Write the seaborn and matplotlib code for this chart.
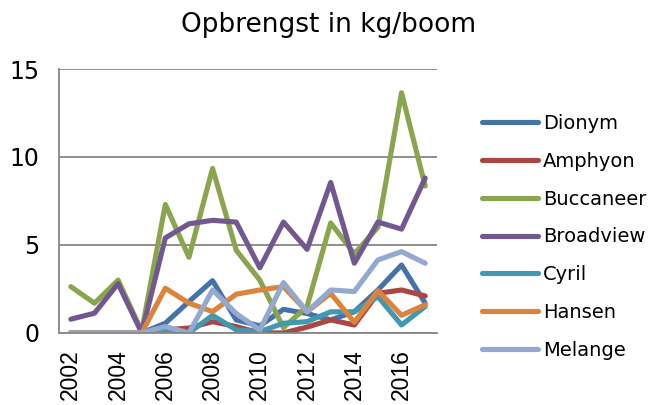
import pandas as pd
import matplotlib
matplotlib.use("Agg")
import matplotlib.pyplot as plt
import seaborn as sns

years = list(range(2002, 2018))

dionym    = [0, 0, 0, 0, 0.55, 1.78, 2.97, 0.74, 0.4, 1.34, 1.1, 0.74, 1.2, 2.44, 3.86, 1.69]
amphyon   = [0, 0, 0, 0, 0.17, 0.28, 0.64, 0.36, 0, 0, 0.33, 0.74, 0.45, 2.25, 2.44, 2.1]
buccaneer = [2.63, 1.69, 3.0, 0.1, 7.3, 4.3, 9.35, 4.7, 3.0, 0.3, 1.5, 6.25, 4.5, 6.0, 13.65, 8.35]
broadview = [0.78, 1.12, 2.8, 0, 5.4, 6.2, 6.4, 6.3, 3.7, 6.3, 4.75, 8.55, 3.96, 6.3, 5.9, 8.8]
cyril     = [0, 0, 0, 0, 0.08, 0, 1.0, 0.17, 0.07, 0.55, 0.64, 1.2, 1.2, 2.06, 0.45, 1.5]
hansen    = [0, 0, 0, 0, 2.54, 1.69, 1.21, 2.2, 2.44, 2.63, 1.2, 2.25, 0.6, 2.4, 1.0, 1.6]
melange   = [0, 0, 0, 0, 0.36, 0, 2.44, 1.1, 0.17, 2.86, 1.2, 2.44, 2.35, 4.15, 4.62, 3.96]

names = ["Dionym", "Amphyon", "Buccaneer", "Broadview", "Cyril", "Hansen", "Melange"]
colors = ["#4572A7", "#AA4643", "#89A54E", "#71588F", "#4198AF", "#DB843D", "#93A9CF"]

df = pd.DataFrame({"year": years, "Dionym": dionym, "Amphyon": amphyon,
                   "Buccaneer": buccaneer, "Broadview": broadview, "Cyril": cyril,
                   "Hansen": hansen, "Melange": melange})
df = df.melt(id_vars="year", var_name="soort", value_name="kg")

sns.set_style("white")
plt.rcParams["font.family"] = ["DejaVu Sans"]
plt.rcParams["text.color"] = "black"
plt.rcParams["xtick.color"] = "black"
plt.rcParams["ytick.color"] = "black"

fig = plt.figure(figsize=(6.5, 4.05), dpi=100)
ax = fig.add_axes([0.0908, 0.178, 0.5815, 0.6516])

sns.lineplot(data=df, x="year", y="kg", hue="soort", hue_order=names,
             palette=colors, linewidth=3.7, ax=ax, legend=True,
             solid_capstyle="round", solid_joinstyle="round")

ax.set_xlim(2001.5, 2017.5)
ax.set_ylim(0, 15)
ax.set_yticks([0, 5, 10, 15])
ax.set_xticks(list(range(2002, 2017, 2)))
ax.set_xticklabels([str(y) for y in range(2002, 2017, 2)], rotation=90,
                   family="Liberation Sans", fontsize=16.5)
ax.tick_params(axis="y", labelsize=17, length=0, pad=14, labelcolor="black")
ax.tick_params(axis="x", length=0, pad=12, labelcolor="black")
ax.set_xlabel("")
ax.set_ylabel("")

ax.yaxis.grid(True, color="#868686", linewidth=1.3)
ax.set_axisbelow(True)
for s in ["top", "right"]:
    ax.spines[s].set_visible(False)
for s in ["left", "bottom"]:
    ax.spines[s].set_color("#868686")
    ax.spines[s].set_linewidth(1.3)

handles, labels = ax.get_legend_handles_labels()
ax.get_legend().remove()
leg = fig.legend(handles, labels, loc="center left", bbox_to_anchor=(0.7415, 0.415),
                 frameon=False, fontsize=14, handlelength=2.9, handletextpad=0.25,
                 labelspacing=0.97, borderpad=0, borderaxespad=0)
for line in leg.get_lines():
    line.set_linewidth(3.7)
    line.set_solid_capstyle("round")
for t in leg.get_texts():
    t.set_color("black")

fig.text(0.505, 1 - 32 / 405, "Opbrengst in kg/boom", ha="center", va="baseline",
         fontsize=19, color="black")

fig.savefig("out.png", dpi=100)
